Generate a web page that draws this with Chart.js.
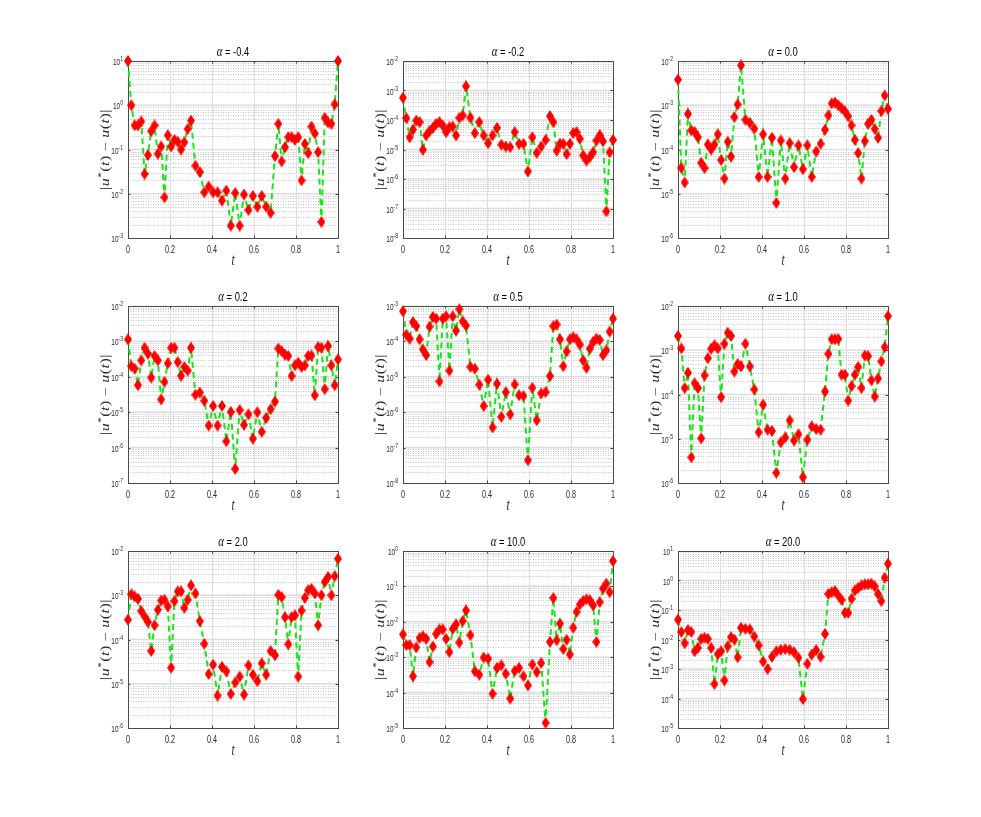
<!DOCTYPE html>
<html><head><meta charset="utf-8">
<script src="https://cdn.jsdelivr.net/npm/chart.js@4.4.1/dist/chart.umd.min.js"></script>
<style>
html,body{margin:0;padding:0;background:#fff;}
body{width:981px;height:817px;position:relative;overflow:hidden;}
canvas{position:absolute;}
</style></head><body>
<script>
// ---- data ----
const T = [0, 0.0158, 0.0316, 0.0474, 0.0632, 0.0789, 0.0947, 0.1105, 0.1263, 0.1421, 0.1579, 0.1737, 0.1895, 0.2053, 0.2211, 0.2368, 0.2526, 0.2684, 0.2842, 0.3,
  0.3211, 0.3421, 0.3632, 0.3842, 0.4053, 0.4263, 0.4474, 0.4684, 0.4895, 0.5105, 0.5316, 0.5526, 0.5737, 0.5947, 0.6158, 0.6368, 0.6579, 0.6789, 0.7,
  0.7158, 0.7316, 0.7474, 0.7632, 0.7789, 0.7947, 0.8105, 0.8263, 0.8421, 0.8579, 0.8737, 0.8895, 0.9053, 0.9211, 0.9368, 0.9526, 0.9684, 0.9842, 1];

const errAlphaM04 = [10, 1.0, 0.35, 0.35, 0.43, 0.028, 0.075, 0.26, 0.35, 0.08, 0.117, 0.0083, 0.21, 0.117, 0.166, 0.15, 0.1, 0.147, 0.29, 0.45,
  0.043, 0.031, 0.0108, 0.0145, 0.0108, 0.0108, 0.007, 0.0118, 0.0019, 0.0104, 0.0019, 0.0096, 0.0043, 0.0089, 0.0051, 0.0089, 0.0051, 0.0037, 0.071,
  0.38, 0.054, 0.113, 0.19, 0.19, 0.166, 0.19, 0.02, 0.134, 0.083, 0.33, 0.23, 0.087, 0.0023, 0.52, 0.41, 0.38, 1.05, 10];

const errAlphaM02 = [5.7e-4, 1.16e-4, 2.6e-5, 4.7e-5, 9.6e-5, 8.5e-5, 9.8e-6, 3e-5, 4.2e-5, 5.4e-5, 7.4e-5, 8.5e-5, 6.5e-5, 3.9e-5, 5.7e-5, 6e-5, 3e-5, 1.19e-4, 1.43e-4, 1.4e-3,
  1.2e-4, 3.6e-5, 8.5e-5, 3e-5, 1.64e-5, 3e-5, 5.4e-5, 1.45e-5, 1.26e-5, 1.2e-5, 3.9e-5, 1.56e-5, 1.56e-5, 1.8e-6, 2.6e-5, 7.7e-6, 1.26e-5, 2.1e-5, 1.35e-4,
  8.5e-5, 9.2e-6, 1.56e-5, 1.56e-5, 7e-6, 1.56e-5, 3.6e-5, 3.9e-5, 2.3e-5, 6.3e-6, 4.2e-6, 5.5e-6, 8e-6, 2e-5, 3.1e-5, 1.9e-5, 8e-8, 8e-6, 2.1e-5];

const errAlpha00 = [3.8e-3, 3.85e-5, 1.8e-5, 6.4e-4, 2.7e-4, 2.5e-4, 1.9e-4, 5e-5, 3.8e-5, 1.3e-4, 1e-4, 1.3e-4, 2.2e-4, 5.8e-5, 2.2e-5, 1.5e-4, 6.9e-5, 5.4e-4, 1.04e-3, 8e-3,
  4.7e-4, 4e-4, 2.95e-4, 2.4e-5, 2.2e-4, 2.4e-5, 1.84e-4, 6.2e-6, 1.6e-4, 2.2e-5, 1.4e-4, 4e-5, 1.24e-4, 3.6e-5, 1.24e-4, 2.4e-5, 9e-5, 1.35e-4, 2.8e-4,
  5.9e-4, 1.1e-3, 1.15e-3, 1e-3, 8.5e-4, 7.3e-4, 5.6e-4, 3.5e-4, 1.66e-4, 8.3e-5, 2.2e-5, 1.55e-4, 3.8e-4, 4.7e-4, 2.9e-4, 1.84e-4, 7.4e-4, 1.67e-3, 8.3e-4];

const errAlpha02 = [1.15e-3, 2e-4, 1.7e-4, 5.8e-5, 2.9e-4, 6.6e-4, 4.5e-4, 9.5e-5, 3.9e-4, 2.9e-4, 2.3e-5, 7.2e-5, 2.4e-4, 6.6e-4, 6.6e-4, 2.6e-4, 1.07e-4, 1.9e-4, 1.5e-4, 6.6e-4,
  3.1e-5, 3.6e-5, 2.1e-5, 4.2e-6, 1.5e-5, 4.2e-6, 1.5e-5, 1.5e-6, 1.02e-5, 2.5e-7, 1.15e-5, 4.4e-6, 8.7e-6, 1.8e-6, 1e-5, 2.8e-6, 6.9e-6, 1.22e-5, 2e-5,
  6.3e-4, 5.3e-4, 4.2e-4, 3.9e-4, 1.06e-4, 2.1e-4, 2.5e-4, 1.9e-4, 2.1e-4, 3.9e-4, 4e-4, 3e-5, 6.9e-4, 6.6e-4, 4.5e-5, 7.4e-4, 2.1e-4, 5.8e-5, 3.1e-4];

const errAlpha05 = [7.1e-4, 1.55e-4, 1.2e-4, 3.5e-4, 2.7e-4, 1.15e-4, 5.9e-5, 4.1e-5, 2.6e-4, 4.9e-4, 4.4e-4, 7.4e-6, 4.4e-4, 5.1e-4, 1.5e-5, 5.1e-4, 2e-4, 8.1e-4, 3.7e-4, 2.8e-4,
  1.9e-5, 1.7e-5, 6e-6, 1.5e-6, 8.3e-6, 3.7e-7, 6.4e-6, 7.4e-7, 3.7e-6, 8.7e-7, 6.1e-6, 3e-6, 2.9e-6, 4.4e-8, 4.9e-6, 5.9e-7, 3.4e-6, 3.7e-6, 1.05e-5,
  2.7e-4, 3e-4, 1.15e-4, 2e-5, 5.2e-5, 1.15e-4, 1.3e-4, 1.15e-4, 8.1e-5, 2.9e-5, 1.8e-5, 6.2e-5, 9.6e-5, 1.2e-4, 1.1e-4, 4.1e-5, 5.6e-5, 1.9e-4, 4.4e-4];

const errAlpha10 = [2.1e-3, 1.1e-3, 1.4e-4, 3.1e-4, 3.8e-6, 1.8e-4, 1.4e-4, 1.02e-5, 2.7e-4, 6.6e-4, 1.08e-3, 1.3e-3, 1.1e-3, 8.7e-5, 1.4e-3, 2.5e-3, 2.1e-3, 3.3e-4, 4.9e-4, 4.3e-4,
  1.4e-3, 4.3e-4, 1.3e-4, 1.4e-5, 5.9e-5, 1.6e-5, 1.5e-5, 1.7e-6, 8.3e-6, 1.07e-5, 2.6e-5, 9.1e-6, 1.26e-5, 1.35e-6, 9.5e-6, 1.9e-5, 1.66e-5, 1.6e-5, 1.17e-4,
  8.3e-4, 1.77e-3, 1.77e-3, 1.8e-3, 2.8e-4, 2.8e-4, 7.3e-5, 1.55e-4, 2.8e-4, 4.2e-4, 1.4e-4, 7.6e-4, 7.4e-4, 2.1e-4, 9e-5, 2.3e-4, 5.6e-4, 1.18e-3, 5.9e-3];

const errAlpha20 = [2.8e-4, 1.05e-3, 9.4e-4, 8.3e-4, 4.4e-4, 3.3e-4, 2.5e-4, 5.5e-5, 2.1e-4, 4.7e-4, 7.6e-4, 7.9e-4, 5.6e-4, 2.3e-5, 7.4e-4, 1.22e-3, 1.22e-3, 5.2e-4, 7.9e-4, 1.67e-3,
  1.1e-3, 2.6e-4, 8e-5, 1.66e-5, 2.7e-5, 5.4e-6, 2.4e-5, 1.9e-5, 5.9e-6, 1.07e-5, 1.45e-5, 5.7e-6, 2.6e-5, 1.6e-5, 1.15e-5, 2.9e-5, 1.6e-5, 5.5e-5, 4.4e-5,
  1.02e-3, 9.1e-4, 3.2e-4, 7.8e-5, 3.2e-4, 3.5e-4, 1.45e-5, 4.5e-4, 8.7e-4, 1.3e-3, 1.4e-3, 1.1e-3, 2.1e-4, 1e-3, 2e-3, 2.6e-3, 1e-3, 2.7e-3, 6.7e-3];

const errAlpha100 = [4.4e-3, 2.2e-3, 2.2e-3, 2.9e-4, 1.9e-3, 3.5e-3, 3.9e-3, 3.3e-3, 7.3e-4, 2e-3, 4.6e-3, 6.1e-3, 6.1e-3, 3.3e-3, 1.4e-3, 6.3e-3, 8.5e-3, 2.6e-3, 1.05e-2, 2.1e-2,
  4.2e-3, 4e-4, 3.2e-4, 9.8e-4, 9.1e-4, 9.3e-5, 5e-4, 5.9e-4, 3.4e-4, 6.8e-5, 4.1e-4, 5e-4, 2.9e-4, 1.6e-4, 6.2e-4, 3.8e-4, 6.9e-4, 1.4e-5, 2.7e-3,
  4.7e-2, 3e-3, 8.9e-3, 1.7e-3, 3.1e-3, 1.2e-3, 6.8e-3, 1.9e-2, 3.1e-2, 3.9e-2, 4.3e-2, 4.1e-2, 2.9e-2, 2.7e-3, 3.6e-2, 8.7e-2, 1.2e-1, 6.9e-2, 5.2e-1];

const errAlpha200 = [4.7e-2, 1.8e-2, 7.5e-3, 2.1e-2, 1.8e-2, 4e-3, 5.2e-3, 1.05e-2, 1.15e-2, 1.05e-2, 5.2e-3, 3.1e-4, 3.2e-3, 4e-3, 4.1e-4, 5.9e-3, 1.2e-2, 1e-2, 2.5e-3, 2.5e-2,
  2.3e-2, 2.2e-2, 1.26e-2, 6.3e-3, 1.8e-3, 1e-3, 2.6e-3, 4e-3, 4.5e-3, 4.7e-3, 4.5e-3, 3.7e-3, 2.4e-3, 9.6e-5, 1.5e-3, 3.1e-3, 4.4e-3, 2.6e-3, 1.55e-2,
  0.35, 0.4, 0.44, 0.31, 0.22, 0.08, 0.08, 0.24, 0.46, 0.56, 0.68, 0.74, 0.74, 0.78, 0.63, 0.35, 0.2, 1.24, 3.7];

const ALPHA_LABELS = ['-0.4', '-0.2', '0.0', '0.2', '0.5', '1.0', '2.0', '10.0', '20.0'];
const Y_MIN_EXP = [-3, -8, -6, -7, -8, -6, -6, -5, -5];
const Y_MAX_EXP = [1, -2, -2, -2, -3, -2, -2, 0, 1];
const X_TICKS = [0, 0.2, 0.4, 0.6, 0.8, 1];
const X_TICK_LABELS = ['0', '0.2', '0.4', '0.6', '0.8', '1'];
const SERIES = [errAlphaM04, errAlphaM02, errAlpha00, errAlpha02, errAlpha05, errAlpha10, errAlpha20, errAlpha100, errAlpha200];

// ---- layout / style ----
const COL_LEFT = [128, 403, 678];
const ROW_TOP = [61, 306, 551];
const PW = 210, PH = 177;
const PAD_L = 55, PAD_T = 28, PAD_R = 12, PAD_B = 40;
const SX = 0.72; // horizontal compression of text (figure was stretched)
const GREEN = '#19e619';
const RED = '#ff0000';
const TXT = '#262626';

// elongated diamond marker
const diamond = document.createElement('canvas');
diamond.width = 8; diamond.height = 12;
(function(){
  const c = diamond.getContext('2d');
  c.fillStyle = RED;
  c.beginPath(); c.moveTo(4, 0); c.lineTo(8, 6); c.lineTo(4, 12); c.lineTo(0, 6); c.closePath(); c.fill();
})();

function drawSText(ctx, txt, x, y, font, align, color) {
  ctx.save();
  ctx.font = font; ctx.fillStyle = color; ctx.textBaseline = 'alphabetic'; ctx.textAlign = 'left';
  const w = ctx.measureText(txt).width * SX;
  const x0 = align === 'center' ? x - w / 2 : (align === 'right' ? x - w : x);
  ctx.translate(x0, y); ctx.scale(SX, 1); ctx.fillText(txt, 0, 0);
  ctx.restore();
  return w;
}
function sw(ctx, txt, font) { ctx.save(); ctx.font = font; const w = ctx.measureText(txt).width * SX; ctx.restore(); return w; }

const decorPlugin = {
  id: 'decor',
  beforeDatasetsDraw(chart) {
    const ctx = chart.ctx, a = chart.chartArea;
    const ys = chart.scales.y, xs = chart.scales.x;
    const idx = chart.options.plugins.decor.idx;
    const e0 = Y_MIN_EXP[idx], e1 = Y_MAX_EXP[idx];
    ctx.save();
    // minor dotted horizontal grid
    ctx.strokeStyle = '#c4c4c4'; ctx.lineWidth = 1; ctx.setLineDash([1, 1.5]);
    for (let e = e0; e < e1; e++) {
      for (let m = 2; m <= 9; m++) {
        const y = Math.round(ys.getPixelForValue(m * Math.pow(10, e))) + 0.5;
        ctx.beginPath(); ctx.moveTo(a.left, y); ctx.lineTo(a.right, y); ctx.stroke();
      }
    }
    ctx.setLineDash([]);
    // major horizontal grid
    ctx.strokeStyle = '#dcdcdc'; ctx.lineWidth = 1.6;
    for (let e = e0 + 1; e < e1; e++) {
      const y = ys.getPixelForValue(Math.pow(10, e));
      ctx.beginPath(); ctx.moveTo(a.left, y); ctx.lineTo(a.right, y); ctx.stroke();
    }
    // vertical grid
    ctx.strokeStyle = '#dedede'; ctx.lineWidth = 1;
    X_TICKS.forEach(v => {
      if (v <= 0 || v >= 1) return;
      const x = Math.round(xs.getPixelForValue(v)) + 0.5;
      ctx.beginPath(); ctx.moveTo(x, a.top); ctx.lineTo(x, a.bottom); ctx.stroke();
    });
    // tick marks (inward)
    ctx.strokeStyle = '#404040'; ctx.lineWidth = 1;
    X_TICKS.forEach(v => {
      const x = Math.round(xs.getPixelForValue(v)) + 0.5;
      ctx.beginPath(); ctx.moveTo(x, a.bottom); ctx.lineTo(x, a.bottom - 2.5); ctx.moveTo(x, a.top); ctx.lineTo(x, a.top + 2.5); ctx.stroke();
    });
    for (let e = e0; e <= e1; e++) {
      const y = Math.round(ys.getPixelForValue(Math.pow(10, e))) + 0.5;
      ctx.beginPath(); ctx.moveTo(a.left, y); ctx.lineTo(a.left + 2.5, y); ctx.moveTo(a.right, y); ctx.lineTo(a.right - 2.5, y); ctx.stroke();
    }
    // box
    ctx.strokeStyle = '#4a4a4a'; ctx.lineWidth = 1;
    ctx.strokeRect(Math.round(a.left) + 0.5, Math.round(a.top) + 0.5, Math.round(a.right - a.left), Math.round(a.bottom - a.top));
    ctx.restore();
  },
  afterDraw(chart) {
    const ctx = chart.ctx, a = chart.chartArea;
    const ys = chart.scales.y, xs = chart.scales.x;
    const idx = chart.options.plugins.decor.idx;
    const e0 = Y_MIN_EXP[idx], e1 = Y_MAX_EXP[idx];
    // y tick labels 10^e
    const baseFont = '9px "Liberation Sans", Arial, sans-serif';
    const expFont = '7px "Liberation Sans", Arial, sans-serif';
    for (let e = e0; e <= e1; e++) {
      const y = ys.getPixelForValue(Math.pow(10, e));
      const expTxt = String(e);
      const we = sw(ctx, expTxt, expFont);
      const xr = a.left - 5;
      drawSText(ctx, expTxt, xr - we, y, expFont, 'left', TXT);
      drawSText(ctx, '10', xr - we, y + 4, baseFont, 'right', TXT);
    }
    // x tick labels
    X_TICKS.forEach((v, i) => {
      drawSText(ctx, X_TICK_LABELS[i], xs.getPixelForValue(v), a.bottom + 14.5, '10px "Liberation Sans", Arial, sans-serif', 'center', TXT);
    });
    // x axis title
    drawSText(ctx, 't', (a.left + a.right) / 2, a.bottom + 27, 'italic 16px "Liberation Serif", "DejaVu Serif", serif', 'center', TXT);
    // title: α = value
    const fA = 'italic 15px "Liberation Serif", "DejaVu Serif", serif';
    const fR = '13px "Liberation Sans", Arial, sans-serif';
    const rest = ' = ' + ALPHA_LABELS[idx];
    const wA = sw(ctx, 'α', fA), wR = sw(ctx, rest, fR);
    const cx = (a.left + a.right) / 2, start = cx - (wA + wR) / 2;
    drawSText(ctx, 'α', start, a.top - 5, fA, 'left', '#000');
    drawSText(ctx, rest, start + wA, a.top - 5, fR, 'left', '#000');
    // y axis title |u*(t) − u(t)|
    ctx.save();
    ctx.translate(a.left - 23, (a.top + a.bottom) / 2);
    ctx.rotate(-Math.PI / 2);
    ctx.scale(1, SX);
    ctx.fillStyle = TXT; ctx.textBaseline = 'alphabetic'; ctx.textAlign = 'left';
    const fI = 'italic 16px "Liberation Serif", "DejaVu Serif", serif';
    const fU = '16px "Liberation Serif", "DejaVu Serif", serif';
    const fS = '11px "Liberation Serif", "DejaVu Serif", serif';
    const parts = [['|', fU, 0], ['u', fI, 0], ['*', fS, -6], ['(', fU, 0], ['t', fI, 0], [')', fU, 0], [' − ', fU, 0], ['u', fI, 0], ['(', fU, 0], ['t', fI, 0], [')', fU, 0], ['|', fU, 0]];
    let total = 0;
    parts.forEach(p => { ctx.font = p[1]; total += ctx.measureText(p[0]).width + 0.5; });
    let px = -total / 2;
    parts.forEach(p => { ctx.font = p[1]; ctx.fillText(p[0], px, 5 + p[2]); px += ctx.measureText(p[0]).width + 0.5; });
    ctx.restore();
  }
};

SERIES.forEach((vals, i) => {
  const col = i % 3, row = Math.floor(i / 3);
  const cv = document.createElement('canvas');
  const W = PAD_L + PW + PAD_R, H = PAD_T + PH + PAD_B;
  cv.width = W; cv.height = H;
  cv.style.width = W + 'px'; cv.style.height = H + 'px';
  cv.style.left = (COL_LEFT[col] - PAD_L) + 'px';
  cv.style.top = (ROW_TOP[row] - PAD_T) + 'px';
  document.body.appendChild(cv);
  new Chart(cv.getContext('2d'), {
    type: 'line',
    data: {
      datasets: [{
        data: T.map((t, k) => ({ x: t, y: vals[k] })),
        borderColor: GREEN,
        borderWidth: 2,
        borderDash: [6, 4],
        pointStyle: diamond,
        pointRadius: 5,
        pointBackgroundColor: RED,
        pointBorderWidth: 0,
        tension: 0,
        clip: false
      }]
    },
    options: {
      responsive: false,
      animation: false,
      devicePixelRatio: 1,
      layout: { padding: { left: 0, top: PAD_T, right: PAD_R, bottom: 0 } },
      plugins: { legend: { display: false }, tooltip: { enabled: false }, title: { display: false }, decor: { idx: i } },
      scales: {
        x: {
          type: 'linear', min: 0, max: 1,
          ticks: { display: false, stepSize: 0.2 },
          grid: { display: false, drawTicks: false },
          border: { display: false },
          afterFit: s => { s.height = PAD_B; }
        },
        y: {
          type: 'logarithmic',
          min: Math.pow(10, Y_MIN_EXP[i]), max: Math.pow(10, Y_MAX_EXP[i]),
          ticks: { display: false },
          grid: { display: false, drawTicks: false },
          border: { display: false },
          afterFit: s => { s.width = PAD_L; }
        }
      }
    },
    plugins: [decorPlugin]
  });
});
</script>
</body></html>
